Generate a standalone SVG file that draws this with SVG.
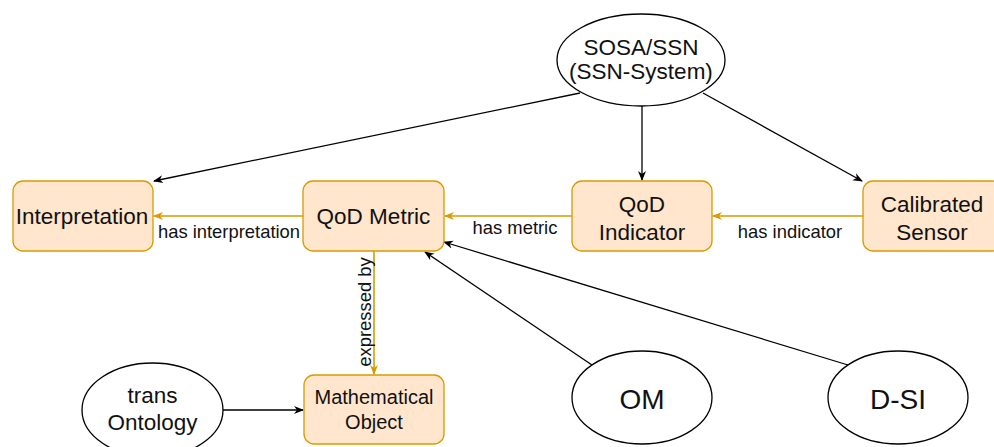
<svg xmlns="http://www.w3.org/2000/svg" width="994" height="447" viewBox="0 0 994 447">
  <defs>
    <marker id="arrowBlack" viewBox="0 0 10 10" refX="9" refY="5" markerWidth="10" markerHeight="10" markerUnits="userSpaceOnUse" orient="auto">
      <path d="M0,1 L10,5 L0,9 L3,5 Z" fill="#000"/>
    </marker>
    <marker id="arrowOrange" viewBox="0 0 10 10" refX="9" refY="5" markerWidth="10" markerHeight="10" markerUnits="userSpaceOnUse" orient="auto">
      <path d="M0,1 L10,5 L0,9 L3,5 Z" fill="#d79b00"/>
    </marker>
    <style>
      .box { fill: #ffe6cc; stroke: #d79b00; stroke-width: 1.3; }
      .oval { fill: #fff; stroke: #000; stroke-width: 1.3; }
      .label { font-family: "Liberation Sans", Arial, sans-serif; font-size: 22.5px; fill: #111; text-anchor: middle; }
      .big { font-size: 28px; }
      .small { font-size: 20px; }
      .edge-label { font-family: "Liberation Sans", Arial, sans-serif; font-size: 18.4px; fill: #111; text-anchor: middle; }
      .link { stroke: #000; stroke-width: 1.3; fill: none; marker-end: url(#arrowBlack); }
      .rel { stroke: #d79b00; stroke-width: 1.6; fill: none; marker-end: url(#arrowOrange); }
    </style>
  </defs>

  <!-- connectors -->
  <g id="connectors">
    <line class="link" x1="580" y1="93" x2="154" y2="181"/>
    <line class="link" x1="642" y1="106" x2="642" y2="180"/>
    <line class="link" x1="703" y1="93" x2="862" y2="181"/>
    <line class="link" x1="592" y1="365" x2="425" y2="252"/>
    <line class="link" x1="848" y1="365" x2="444" y2="242"/>
    <line class="link" x1="223" y1="410" x2="303" y2="410"/>

    <line class="rel" x1="303" y1="216" x2="154" y2="216"/>
    <line class="rel" x1="572" y1="216" x2="445" y2="216"/>
    <line class="rel" x1="863" y1="216" x2="713" y2="216"/>
    <line class="rel" x1="374" y1="251" x2="374" y2="374"/>

    <text class="edge-label" x="229" y="238">has interpretation</text>
    <text class="edge-label" x="515" y="234">has metric</text>
    <text class="edge-label" x="790" y="238">has indicator</text>
    <text class="edge-label" transform="translate(371 312) rotate(-90)">expressed by</text>
  </g>

  <!-- ontology nodes -->
  <g id="sosa-ssn">
    <ellipse class="oval" cx="641" cy="60" rx="84" ry="46"/>
    <text class="label" x="641" y="55">SOSA/SSN</text>
    <text class="label" x="641" y="79">(SSN-System)</text>
  </g>
  <g id="om">
    <ellipse class="oval" cx="642" cy="397.5" rx="70" ry="46.5"/>
    <text class="label big" x="642" y="409">OM</text>
  </g>
  <g id="d-si">
    <ellipse class="oval" cx="898" cy="397.5" rx="70" ry="46.5"/>
    <text class="label big" x="898" y="409">D-SI</text>
  </g>
  <g id="trans-ontology">
    <ellipse class="oval" cx="152.5" cy="410" rx="70.5" ry="47"/>
    <text class="label" x="152.5" y="403">trans</text>
    <text class="label" x="152.5" y="430">Ontology</text>
  </g>

  <!-- concept nodes -->
  <g id="interpretation">
    <rect class="box" x="13" y="181" width="140" height="70" rx="10"/>
    <text class="label" x="82" y="224">Interpretation</text>
  </g>
  <g id="qod-metric">
    <rect class="box" x="303" y="181" width="141" height="70" rx="10"/>
    <text class="label" x="373.5" y="224">QoD Metric</text>
  </g>
  <g id="qod-indicator">
    <rect class="box" x="572" y="181" width="140" height="70" rx="10"/>
    <text class="label" x="642" y="212">QoD</text>
    <text class="label" x="642" y="240">Indicator</text>
  </g>
  <g id="calibrated-sensor">
    <rect class="box" x="863" y="181" width="140" height="70" rx="10"/>
    <text class="label" x="932" y="212">Calibrated</text>
    <text class="label" x="932" y="240">Sensor</text>
  </g>
  <g id="mathematical-object">
    <rect class="box" x="304" y="375" width="140" height="69" rx="10"/>
    <text class="label small" x="374" y="404">Mathematical</text>
    <text class="label small" x="374" y="429">Object</text>
  </g>
</svg>
